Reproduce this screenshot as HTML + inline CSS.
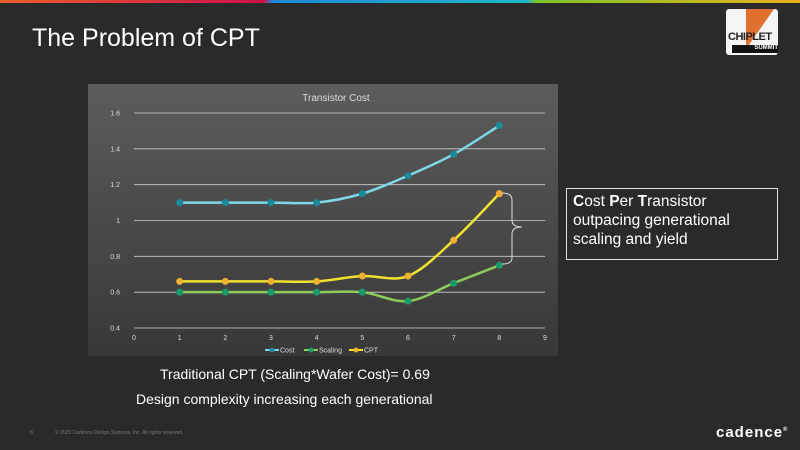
<!DOCTYPE html>
<html><head><meta charset="utf-8"><style>
body{margin:0;width:800px;height:450px;overflow:hidden;background:#2a2a2a;font-family:"Liberation Sans",sans-serif;position:relative}
.abs{position:absolute}
</style></head><body>
<div class="abs" style="left:0;top:0;width:800px;height:3px;background:linear-gradient(90deg,#e8602c 0%,#d0104c 33%,#1e88d8 34%,#20b8c8 66%,#7cc428 67%,#e8b020 100%)"></div>
<div class="abs" style="left:32px;top:24px;font-size:25px;color:#fff">The Problem of CPT</div>
<div class="abs" style="left:726px;top:9px;width:52px;height:46px;background:#f4f4f4;border-radius:3px;overflow:hidden">
 <div class="abs" style="left:20px;top:0;width:0;height:0;border-left:0 solid transparent;border-right:28px solid transparent;border-top:40px solid #e07030"></div>
 <div class="abs" style="left:2px;top:22px;font-size:11px;font-weight:bold;color:#222;letter-spacing:-0.5px">CHIPLET</div>
 <div class="abs" style="left:6px;top:36px;width:46px;height:8px;background:#111;color:#fff;font-size:6px;text-align:right;font-weight:bold">SUMMIT</div>
</div>
<svg class="abs" style="left:0;top:0" width="800" height="450" id="chart">
 <defs><linearGradient id="bg" x1="0" y1="0" x2="0" y2="1"><stop offset="0" stop-color="#5c5c5c"/><stop offset="1" stop-color="#383838"/></linearGradient></defs>
 <rect x="88" y="84" width="470" height="272" fill="url(#bg)"/>
 <text x="336" y="101" fill="#ddd" font-size="10" text-anchor="middle" font-family="Liberation Sans">Transistor Cost</text>
 <g id="grid"></g><g id="series"></g>
 <path d="M502,193 Q512,193 512,200 L512,220 Q512,227 522,227 Q512,227 512,234 L512,258 Q512,264 502,264" fill="none" stroke="#ddd" stroke-width="1"/>
 <g id="legend" font-size="7" fill="#ddd" font-family="Liberation Sans"></g>
</svg>
<div class="abs" style="left:566px;top:188px;width:198px;height:64px;border:1px solid #ddd;padding:3px 6px;color:#fff;font-size:15.5px;line-height:19px"><b>C</b>ost <b>P</b>er <b>T</b>ransistor outpacing generational scaling and yield</div>
<div class="abs" style="left:160px;top:366px;color:#fff;font-size:14px">Traditional CPT (Scaling*Wafer Cost)= 0.69</div>
<div class="abs" style="left:136px;top:391px;color:#fff;font-size:14px">Design complexity increasing each generational</div>
<div class="abs" style="left:30px;top:430px;color:#777;font-size:5px">8</div>
<div class="abs" style="left:55px;top:430px;color:#777;font-size:5px">© 2025 Cadence Design Systems, Inc. All rights reserved.</div>
<div class="abs" style="left:716px;top:424px;color:#fff;font-size:15px;font-weight:bold;letter-spacing:1px">cadence<sup style="font-size:6px">®</sup></div>
<script>
const xTicks=[0,1,2,3,4,5,6,7,8,9];
const yTicks=[0.4,0.6,0.8,1,1.2,1.4,1.6];
const yTickLabels=["0.4","0.6","0.8","1","1.2","1.4","1.6"];
const categories=[1,2,3,4,5,6,7,8];
const costValues=[1.1,1.1,1.1,1.1,1.15,1.25,1.37,1.53];
const scalingValues=[0.6,0.6,0.6,0.6,0.6,0.55,0.65,0.75];
const cptValues=[0.66,0.66,0.66,0.66,0.69,0.69,0.89,1.15];
const NS="http://www.w3.org/2000/svg";
function X(v){return 134+v*(545-134)/9;}
function Y(v){return 328-(v-0.4)*(328-113)/1.2;}
function mk(t,a,p){const e=document.createElementNS(NS,t);for(const k in a)e.setAttribute(k,a[k]);p.appendChild(e);return e;}
const grid=document.getElementById('grid');
yTicks.forEach((t,i)=>{
 const l=mk('line',{x1:X(0),x2:X(9),y1:Y(t),y2:Y(t),stroke:'#cfcfcf','stroke-width':0.8},grid);
 
 
 const tx=mk('text',{x:X(0)-14,y:Y(t)+2.5,fill:'#ddd','font-size':7,'font-family':'Liberation Sans','text-anchor':'end'},grid);
 tx.textContent=yTickLabels[i];
 
 
});
xTicks.forEach(t=>{
 const tx=mk('text',{x:X(t),y:Y(0.4)+12,fill:'#ddd','font-size':7,'font-family':'Liberation Sans','text-anchor':'middle'},grid);
 tx.textContent=t;
 
 
});
function smooth(pts){let d='M'+pts[0][0]+','+pts[0][1];for(let i=0;i<pts.length-1;i++){const p0=pts[i-1]||pts[i],p1=pts[i],p2=pts[i+1],p3=pts[i+2]||p2;const c1=[p1[0]+(p2[0]-p0[0])/6,p1[1]+(p2[1]-p0[1])/6],c2=[p2[0]-(p3[0]-p1[0])/6,p2[1]-(p3[1]-p1[1])/6];d+=' C'+c1+' '+c2+' '+p2;}return d;}
const S=document.getElementById('series');
const series=[["cost",costValues,'#7fd8ea','#1a8a9a'],["scaling",scalingValues,'#8ccc5a','#1a9a6a'],["cpt",cptValues,'#f2e030','#f0b030']];
series.forEach(([n,vals,lc,mc])=>{
 const pts=categories.map((c,i)=>[X(c),Y(vals[i])]);
 const p=mk('path',{d:smooth(pts),fill:'none',stroke:lc,'stroke-width':2.5},S);
 
 
 pts.forEach(q=>{const c=mk('circle',{cx:q[0],cy:q[1],r:3.5,fill:mc},S);
  
  });
});
const L=document.getElementById('legend');
const leg=[["Cost",'#7fd8ea','#1a8a9a',279],["Scaling",'#8ccc5a','#1a9a6a',318],["CPT",'#f2e030','#f0b030',363]];
leg.forEach(([t,lc,mc,x])=>{
 const g=mk('g',{},L);
 
 
 mk('line',{x1:x-14,x2:x,y1:350,y2:350,stroke:lc,'stroke-width':2},g);
 mk('circle',{cx:x-7,cy:350,r:2.5,fill:mc},g);
 const tx=mk('text',{x:x+1,y:352.5},g);tx.textContent=t;
});
</script>
</body></html>
